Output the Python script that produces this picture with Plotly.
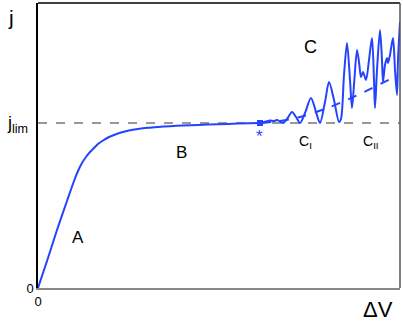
import plotly.graph_objects as go

# values (arbitrary units: dV along x, j along y)
j_lim = 165

rise_x = [0, 10, 19, 29, 36, 40, 44, 48, 52, 56, 60, 65, 70, 76, 83, 91, 100,
          110, 120, 132, 145, 160, 180, 200, 222]
rise_y = [0, 30, 58, 87, 107, 117, 125, 131, 136, 140, 144, 147.5, 150.5, 153, 155.5,
          157.5, 159, 160.2, 161, 161.8, 162.5, 163.1, 163.8, 164.4, 165]

osc_x = [222, 228, 232, 236, 239, 242, 245, 249, 254, 258, 262, 267, 273, 278, 282,
         287, 291, 296, 301, 303, 306, 309, 312, 314, 316, 319, 321, 323, 325, 328,
         331, 334, 336, 337, 339, 342, 344, 345, 347, 349, 350, 352, 355, 357, 359,
         360, 362]
osc_y = [165, 166.5, 167.5, 167, 168, 166.5, 165, 169, 176, 171, 165, 175, 190, 176, 165,
         186, 206, 188, 166, 169, 213, 245, 208, 180, 203, 238, 226, 211, 216, 208,
         228, 250, 208, 180, 218, 258, 228, 206, 223, 230, 225, 233, 250, 218, 193,
         228, 266]

trend_x = [224, 242, 262, 292, 322, 360]
trend_y = [165, 167, 171, 181, 194, 213]

star_x = [222]
star_y = [165]

blue = "#2443ff"

fig = go.Figure()
fig.add_trace(go.Scatter(x=[0, 362], y=[j_lim, j_lim], mode="lines",
                         line=dict(color="#777777", width=1.4, dash="dash")))
fig.add_trace(go.Scatter(x=rise_x, y=rise_y, mode="lines",
                         line=dict(color=blue, width=2, shape="spline", smoothing=0.6)))
fig.add_trace(go.Scatter(x=osc_x, y=osc_y, mode="lines",
                         line=dict(color=blue, width=2, shape="spline", smoothing=0.8)))
fig.add_trace(go.Scatter(x=trend_x, y=trend_y, mode="lines",
                         line=dict(color=blue, width=2, dash="dash", shape="spline")))
fig.add_trace(go.Scatter(x=star_x, y=star_y, mode="markers",
                         marker=dict(color=blue, size=6, symbol="square")))

font = dict(family="Liberation Sans, Arial, sans-serif", color="black")

def label(x, y, text, size, color="black", ref="data"):
    fig.add_annotation(x=x, y=y, text=text, showarrow=False,
                       xanchor="center", yanchor="middle",
                       xref="x" if ref == "data" else "paper",
                       yref="y" if ref == "data" else "paper",
                       font=dict(family=font["family"], size=size, color=color))

label(40, 51, "A", 17)
label(143, 136, "B", 17)
label(272, 241, "C", 18)
label(221, 152, "*", 17, color=blue)
label(267, 146, "C<sub>I</sub>", 14)
label(333, 146, "C<sub>II</sub>", 14)
label(-0.075, 0.95, "j", 21, ref="paper")
label(-0.056, 0.575, "j<sub>lim</sub>", 18, ref="paper")
label(0.94, -0.075, "ΔV", 22, ref="paper")

fig.add_shape(type="line", xref="paper", yref="paper", x0=0, x1=1, y0=1, y1=1,
              line=dict(color="black", width=1.5))
fig.add_shape(type="line", xref="paper", yref="paper", x0=1, x1=1, y0=0, y1=1,
              line=dict(color="#555555", width=1.5))

fig.update_xaxes(range=[0, 362], showgrid=False, zeroline=False, showline=True,
                 linecolor="#888888", linewidth=2, tickvals=[0], ticktext=["0"],
                 ticks="", tickfont=dict(size=13, color="black"))
fig.update_yaxes(range=[0, 285], showgrid=False, zeroline=False, showline=True,
                 linecolor="black", linewidth=1.5, tickvals=[0], ticktext=["0"],
                 ticks="", tickfont=dict(size=13, color="black"))
fig.update_layout(width=403, height=327, showlegend=False,
                  margin=dict(l=38, r=3, t=3, b=39),
                  plot_bgcolor="white", paper_bgcolor="white",
                  font=font)
# the page body has a default 8px margin; drop it so the figure fills the window
fig.write_html("out.html", config={"displayModeBar": False},
               post_script="document.body.style.margin='0';")
